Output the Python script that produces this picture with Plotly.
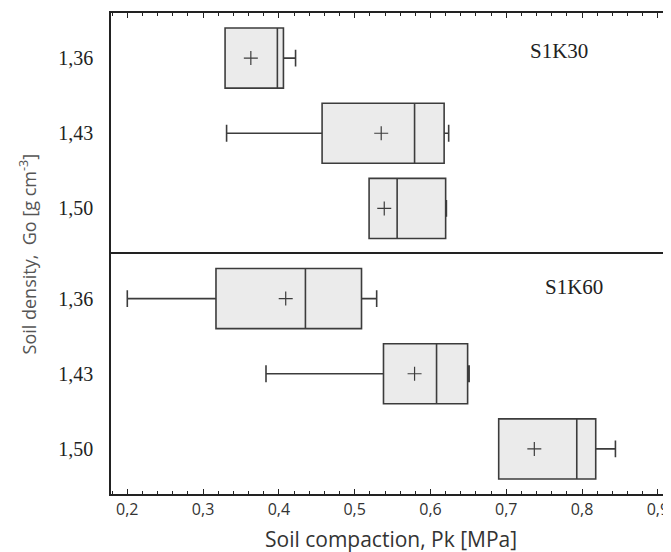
import plotly.graph_objects as go
from plotly.subplots import make_subplots

densities = ["1,36", "1,43", "1,50"]

# S1K30 panel
k30_lower = [0.329, 0.331, 0.519]
k30_q1 = [0.329, 0.457, 0.519]
k30_median = [0.398, 0.579, 0.556]
k30_q3 = [0.406, 0.618, 0.620]
k30_upper = [0.422, 0.624, 0.621]
k30_mean = [0.363, 0.535, 0.539]

# S1K60 panel
k60_lower = [0.200, 0.383, 0.690]
k60_q1 = [0.317, 0.538, 0.690]
k60_median = [0.435, 0.608, 0.793]
k60_q3 = [0.509, 0.649, 0.818]
k60_upper = [0.529, 0.651, 0.844]
k60_mean = [0.409, 0.579, 0.737]

panel_labels = ["S1K30", "S1K60"]

LINE = "#3c3c3c"
FRAME = "#222222"
FILL = "#ebebeb"

fig = make_subplots(rows=2, cols=1, shared_xaxes=True, vertical_spacing=0)

panels = [
    (k30_lower, k30_q1, k30_median, k30_q3, k30_upper, k30_mean),
    (k60_lower, k60_q1, k60_median, k60_q3, k60_upper, k60_mean),
]
for i, (lo, q1, med, q3, up, mn) in enumerate(panels, start=1):
    fig.add_trace(go.Box(
        y=densities, q1=q1, median=med, q3=q3,
        lowerfence=lo, upperfence=up,
        orientation="h", width=0.8, whiskerwidth=0.28,
        fillcolor=FILL, line=dict(color=LINE, width=1.6),
        boxpoints=False, showlegend=False, hoverinfo="skip",
    ), row=i, col=1)
    fig.add_trace(go.Scatter(
        x=mn, y=densities, mode="markers",
        marker=dict(symbol="cross-thin", size=10,
                    line=dict(color=LINE, width=1.2)),
        showlegend=False, hoverinfo="skip",
    ), row=i, col=1)

xrange = [0.1785, 0.916]
common_x = dict(
    range=xrange, dtick=0.1, tick0=0.2, ticks="inside", ticklen=5,
    tickcolor=FRAME, tickwidth=1.2,
    minor=dict(dtick=0.02, tick0=0.2, ticks="inside", ticklen=3,
               tickcolor=FRAME, tickwidth=1),
    showline=True, linecolor=FRAME, linewidth=1.6,
    showgrid=False, zeroline=False, automargin=False,
)
fig.update_xaxes(**common_x, side="top", mirror=False, showticklabels=False, row=1, col=1)
fig.update_xaxes(**common_x, side="bottom", mirror=True, showticklabels=True,
                 tickformat=".1f",
                 tickfont=dict(family="Open Sans", size=16, color="#333333"),
                 row=2, col=1)

common_y = dict(
    type="category", categoryorder="array", categoryarray=densities,
    range=[2.6, -0.6], ticks="", showline=True, mirror=True,
    linecolor=FRAME, linewidth=1.6, showgrid=False, zeroline=False,
    tickfont=dict(family="Liberation Serif", size=20, color="#222222"),
    ticklabelstandoff=12, automargin=False,
)
fig.update_yaxes(**common_y, row=1, col=1)
fig.update_yaxes(**common_y, row=2, col=1)

fig.add_annotation(text=panel_labels[0], xref="x", yref="y", x=0.7697, y=-0.1,
                   showarrow=False, font=dict(family="Liberation Serif", size=21, color="#222222"))
fig.add_annotation(text=panel_labels[1], xref="x2", yref="y2", x=0.789, y=-0.16,
                   showarrow=False, font=dict(family="Liberation Serif", size=21, color="#222222"))

fig.add_annotation(text="Soil density,  Go [g cm<sup>-3</sup>]", xref="paper", yref="paper",
                   x=-0.1485, y=0.5, xanchor="center", yanchor="middle", textangle=-90,
                   showarrow=False, font=dict(family="Open Sans", size=18, color="#555555"))
fig.add_annotation(text="Soil compaction, Pk [MPa]", xref="paper", yref="paper",
                   x=0.5, y=-0.094, xanchor="center", yanchor="middle",
                   showarrow=False, font=dict(family="Open Sans", size=21, color="#333333"))

fig.update_layout(
    width=671, height=552,
    margin=dict(l=103, r=9, t=5, b=66),
    plot_bgcolor="white", paper_bgcolor="white",
    separators=", ",
)

fig.write_html("out.html")
